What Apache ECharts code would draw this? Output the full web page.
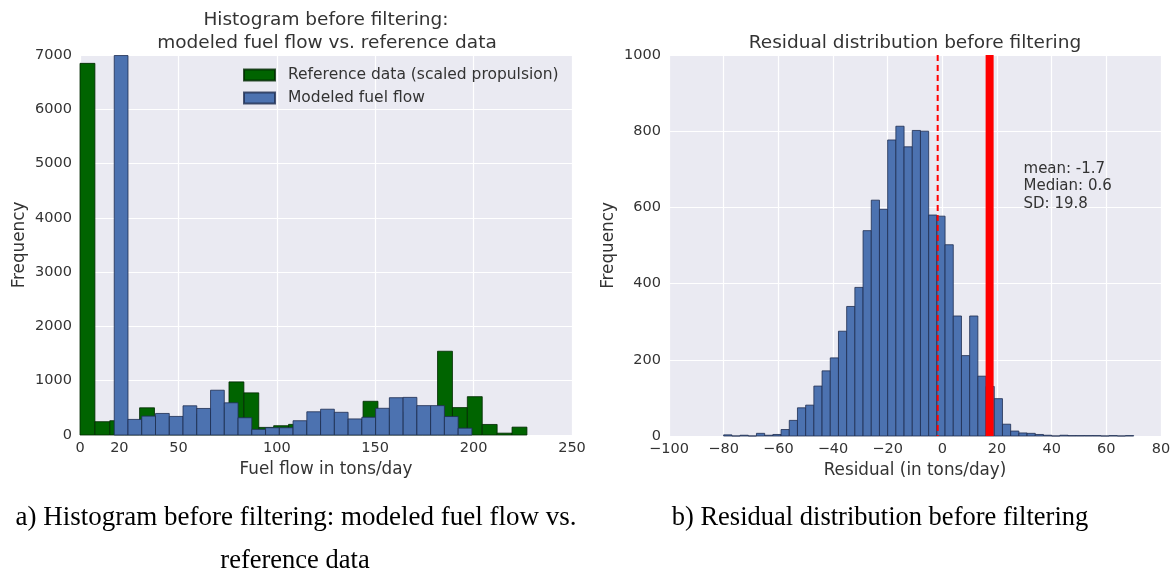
<!DOCTYPE html>
<html>
<head>
<meta charset="utf-8">
<script src="https://cdn.jsdelivr.net/npm/echarts@6/dist/echarts.min.js"></script>
<style>
  html, body { margin: 0; padding: 0; background: #ffffff; }
  #chart { width: 1175px; height: 574px; }
</style>
</head>
<body>
<div id="chart"></div>
<script>
// ---- Fuel flow histograms (tons/day) ----
const refBinStart = 0;
const refBinWidth = 7.57;
const refCounts = [6846, 245, 263, 230, 501, 330, 300, 380, 420, 500,
                   978, 776, 140, 171, 196, 200, 250, 280, 250, 621,
                   350, 420, 450, 400, 1543, 505, 706, 194, 34, 145];

const modelBinStart = 17.4;
const modelBinWidth = 6.99;
const modelCounts = [6990, 287, 348, 397, 342, 538, 489, 825, 593, 318,
                     104, 134, 134, 263, 428, 475, 418, 296, 327, 492,
                     687, 693, 541, 541, 340, 126];

const fuelTicks = [0, 20, 50, 100, 150, 200, 250];

// ---- Residual histogram (tons/day) ----
const residBinStart = -80;
const residBinWidth = 3;
const residCounts = [3, 0, 2, 0, 7, 2, 4, 17, 41, 74,
                     81, 131, 171, 205, 275, 340, 390, 539, 619, 595,
                     777, 813, 759, 802, 800, 580, 577, 502, 315, 211,
                     315, 157, 130, 98, 31, 13, 8, 7, 4, 2,
                     0, 2, 1, 1, 1, 1, 0, 1, 0, 1];
const residMean = -1.7;
const residMedian = 0.6;
const residSD = 19.8;
const residCutoff = 17.3;

// ---- helpers ----
function toBins(start, width, counts) {
  return counts.map((c, i) => [start + i * width, start + (i + 1) * width, c]);
}

function histItem(params, api) {
  const topLeft = api.coord([api.value(0), api.value(2)]);
  const bottomRight = api.coord([api.value(1), 0]);
  return {
    type: 'rect',
    shape: {
      x: topLeft[0],
      y: topLeft[1],
      width: bottomRight[0] - topLeft[0],
      height: bottomRight[1] - topLeft[1]
    },
    style: api.style()
  };
}

function vLine(width, dash) {
  return function (params, api) {
    const top = api.coord([api.value(0), 1000]);
    const bottom = api.coord([api.value(0), 0]);
    return {
      type: 'line',
      shape: { x1: top[0], y1: top[1], x2: bottom[0], y2: bottom[1] },
      style: { stroke: '#ff0000', lineWidth: width, lineDash: dash }
    };
  };
}

const FONT = 'DejaVu Sans';
const TXT = '#333333';
const PANEL = '#EAEAF2';

const tickLabel = { color: TXT, fontFamily: FONT, fontSize: 14.5 };
const axisName = { color: TXT, fontFamily: FONT, fontSize: 16.8 };

const plainFmt = v => String(v);
const minusFmt = v => (v < 0 ? '\u2212' + Math.abs(v) : String(v));

const chart = echarts.init(document.getElementById('chart'), null, { renderer: 'canvas' });

const option = {
  animation: false,
  backgroundColor: '#ffffff',
  grid: [
    { left: 80, top: 55, width: 492, height: 380, show: true, backgroundColor: PANEL, borderWidth: 0 },
    { left: 669, top: 55, width: 492, height: 381, show: true, backgroundColor: PANEL, borderWidth: 0 }
  ],
  xAxis: [
    {
      gridIndex: 0, type: 'value', min: 0, max: 250,
      axisLine: { show: false },
      axisTick: { show: false, customValues: fuelTicks },
      axisLabel: { customValues: fuelTicks, margin: 6, formatter: plainFmt, ...tickLabel },
      splitLine: { show: true, lineStyle: { color: '#ffffff', width: 1.2 } },
      name: 'Fuel flow in tons/day', nameLocation: 'middle', nameGap: 26,
      nameTextStyle: axisName
    },
    {
      gridIndex: 1, type: 'value', min: -100, max: 80, interval: 20,
      axisLine: { show: false },
      axisTick: { show: false },
      axisLabel: { margin: 6, formatter: minusFmt, ...tickLabel },
      splitLine: { show: true, lineStyle: { color: '#ffffff', width: 1.2 } },
      name: 'Residual (in tons/day)', nameLocation: 'middle', nameGap: 26,
      nameTextStyle: axisName
    }
  ],
  yAxis: [
    {
      gridIndex: 0, type: 'value', min: 0, max: 7000, interval: 1000,
      axisLine: { show: false },
      axisTick: { show: false },
      axisLabel: { margin: 8, formatter: plainFmt, ...tickLabel },
      splitLine: { show: true, lineStyle: { color: '#ffffff', width: 1.2 } },
      name: 'Frequency', nameLocation: 'middle', nameGap: 52,
      nameTextStyle: axisName
    },
    {
      gridIndex: 1, type: 'value', min: 0, max: 1000, interval: 200,
      axisLine: { show: false },
      axisTick: { show: false },
      axisLabel: { margin: 8, formatter: plainFmt, ...tickLabel },
      splitLine: { show: true, lineStyle: { color: '#ffffff', width: 1.2 } },
      name: 'Frequency', nameLocation: 'middle', nameGap: 52,
      nameTextStyle: axisName
    }
  ],
  legend: {
    orient: 'vertical',
    left: 243, top: 67,
    padding: 0,
    itemWidth: 31, itemHeight: 11, itemGap: 7,
    icon: 'rect',
    textStyle: { color: TXT, fontFamily: FONT, fontSize: 15.5, lineHeight: 16, padding: [0, 0, 0, 8] },
    data: ['Reference data (scaled propulsion)', 'Modeled fuel flow']
  },
  series: [
    {
      name: 'Reference data (scaled propulsion)',
      type: 'custom', xAxisIndex: 0, yAxisIndex: 0,
      renderItem: histItem,
      itemStyle: { color: '#006400', borderColor: 'rgba(0,40,0,0.8)', borderWidth: 1 },
      encode: { x: [0, 1], y: 2 },
      data: toBins(refBinStart, refBinWidth, refCounts)
    },
    {
      name: 'Modeled fuel flow',
      type: 'custom', xAxisIndex: 0, yAxisIndex: 0,
      renderItem: histItem,
      itemStyle: { color: '#4C72B0', borderColor: 'rgba(30,45,80,0.8)', borderWidth: 1 },
      encode: { x: [0, 1], y: 2 },
      data: toBins(modelBinStart, modelBinWidth, modelCounts)
    },
    {
      name: 'Residual',
      type: 'custom', xAxisIndex: 1, yAxisIndex: 1,
      renderItem: histItem,
      itemStyle: { color: '#4C72B0', borderColor: 'rgba(30,45,80,0.8)', borderWidth: 1 },
      encode: { x: [0, 1], y: 2 },
      data: toBins(residBinStart, residBinWidth, residCounts)
    },
    {
      name: 'Mean',
      type: 'custom', xAxisIndex: 1, yAxisIndex: 1,
      renderItem: vLine(2, [6, 4]),
      clip: false,
      encode: { x: 0 },
      data: [[residMean]]
    },
    {
      name: 'Cutoff',
      type: 'custom', xAxisIndex: 1, yAxisIndex: 1,
      renderItem: vLine(8, null),
      clip: false,
      encode: { x: 0 },
      data: [[residCutoff]]
    },
    {
      name: 'Stats',
      type: 'custom', xAxisIndex: 1, yAxisIndex: 1,
      renderItem: function (params, api) {
        const p = api.coord([api.value(0), api.value(1)]);
        return {
          type: 'text',
          x: p[0], y: p[1],
          style: {
            text: 'mean: ' + residMean + '\nMedian: ' + residMedian + '\nSD: ' + residSD,
            fill: TXT, font: '15px "DejaVu Sans"', lineHeight: 17.5,
            align: 'left', verticalAlign: 'top'
          }
        };
      },
      encode: { x: 0, y: 1 },
      data: [[29.7, 724]]
    }
  ],
  graphic: [
    { type: 'text', x: 326, y: 20, style: { text: 'Histogram before filtering:', font: '18.5px "DejaVu Sans"', fill: TXT, align: 'center', verticalAlign: 'middle' } },
    { type: 'text', x: 327, y: 43, style: { text: 'modeled fuel flow vs. reference data', font: '18.5px "DejaVu Sans"', fill: TXT, align: 'center', verticalAlign: 'middle' } },
    { type: 'text', x: 915, y: 43, style: { text: 'Residual distribution before filtering', font: '18.5px "DejaVu Sans"', fill: TXT, align: 'center', verticalAlign: 'middle' } },
    { type: 'text', x: 296, y: 518, style: { text: 'a) Histogram before filtering: modeled fuel flow vs.', font: '27px "Liberation Serif"', fill: '#000', align: 'center', verticalAlign: 'middle' } },
    { type: 'text', x: 295, y: 561, style: { text: 'reference data', font: '26.5px "Liberation Serif"', fill: '#000', align: 'center', verticalAlign: 'middle' } },
    { type: 'text', x: 880, y: 518, style: { text: 'b) Residual distribution before filtering', font: '26.5px "Liberation Serif"', fill: '#000', align: 'center', verticalAlign: 'middle' } }
  ]
};

chart.setOption(option);
</script>
</body>
</html>
